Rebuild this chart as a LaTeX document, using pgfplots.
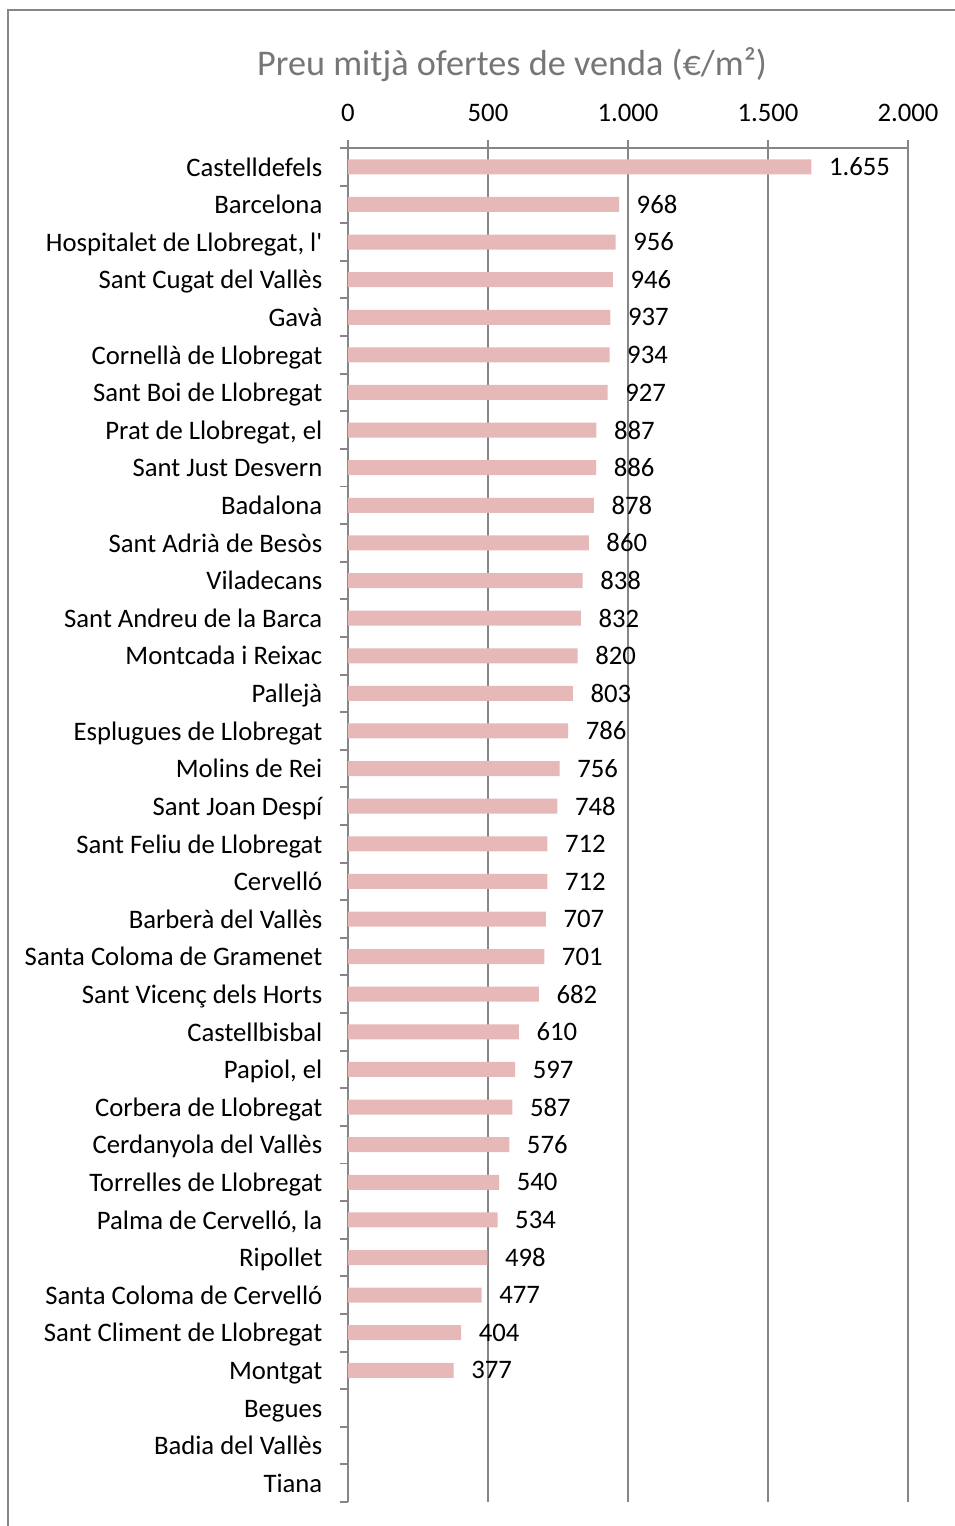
\documentclass[border=0pt]{standalone}
\usepackage{fontspec}
\setmainfont{Carlito}
\usepackage{pgfplots}
\pgfplotsset{compat=1.18}
\definecolor{barpink}{RGB}{230,185,184}
\definecolor{gridgray}{RGB}{134,134,134}
\definecolor{titlegray}{RGB}{118,118,118}
\newcommand{\lblfont}{\fontsize{7.6}{9}\selectfont}

\begin{document}
\begin{tikzpicture}
\begin{axis}[
  scale only axis, width=56mm, height=135.4mm,
  xbar, bar width=1.5mm,
  xmin=0, xmax=2000, ymin=-0.5, ymax=35.5,
  axis x line*=top, axis y line*=left,
  axis line style={gridgray, line width=0.55pt},
  xmajorgrids, grid style={gridgray, line width=0.55pt},
  tick align=outside, major tick length=0.8mm,
  tick style={gridgray, line width=0.55pt},
  /pgf/number format/.cd, 1000 sep={.}, assume math mode=true,
  /pgfplots/.cd,
  xtick={0,500,1000,1500,2000},
  xticklabel style={font=\lblfont, inner sep=0pt, yshift=1.8mm},
  ytick={-0.5,0.5,...,35.5}, yticklabels={},
  extra y ticks={0,1,...,35},
  extra y tick style={major tick length=0pt, grid=none},
  extra y tick labels={Tiana, Badia del Vallès, Begues, Montgat,
    Sant Climent de Llobregat, Santa Coloma de Cervelló, Ripollet,
    {Palma de Cervelló, la}, Torrelles de Llobregat, Cerdanyola del Vallès,
    Corbera de Llobregat, {Papiol, el}, Castellbisbal, Sant Vicenç dels Horts,
    Santa Coloma de Gramenet, Barberà del Vallès, Cervelló,
    Sant Feliu de Llobregat, Sant Joan Despí, Molins de Rei,
    Esplugues de Llobregat, Pallejà, Montcada i Reixac,
    Sant Andreu de la Barca, Viladecans, Sant Adrià de Besòs, Badalona,
    Sant Just Desvern, {Prat de Llobregat, el}, Sant Boi de Llobregat,
    Cornellà de Llobregat, Gavà, Sant Cugat del Vallès,
    {Hospitalet de Llobregat, l\textquotesingle}, Barcelona, Castelldefels},
  yticklabel style={font=\lblfont, inner sep=0pt, xshift=-2.5mm,
    text height=1.6ex, text depth=0.5ex},
  nodes near coords, point meta=x,
  every node near coord/.append style={font=\lblfont, black, anchor=west,
    inner sep=0pt, xshift=1.7mm},
  title={Preu mitjà ofertes de venda (€/m²)},
  title style={font=\fontsize{10.3}{12}\selectfont, text=titlegray,
    at={(axis description cs:0.293,1.046)}, anchor=center, inner sep=0pt},
]
\addplot[draw=none, fill=barpink] coordinates {
  (377,3) (404,4) (477,5) (498,6) (534,7) (540,8) (576,9) (587,10)
  (597,11) (610,12) (682,13) (701,14) (707,15) (712,16) (712,17)
  (748,18) (756,19) (786,20) (803,21) (820,22) (832,23) (838,24)
  (860,25) (878,26) (886,27) (887,28) (927,29) (934,30) (937,31)
  (946,32) (956,33) (968,34) (1655,35)};
\coordinate (O) at (rel axis cs:0,0);
\end{axis}
\draw[gridgray, line width=0.5pt] ([shift={(-34mm,-5mm)}]O) -- ([shift={(-34mm,149.2mm)}]O) -- ([shift={(65mm,149.2mm)}]O);
\pgfresetboundingbox
\useasboundingbox ([shift={(-34.8mm,-2.4mm)}]O) rectangle ([shift={(60.7mm,150.2mm)}]O);
\end{tikzpicture}
\end{document}
